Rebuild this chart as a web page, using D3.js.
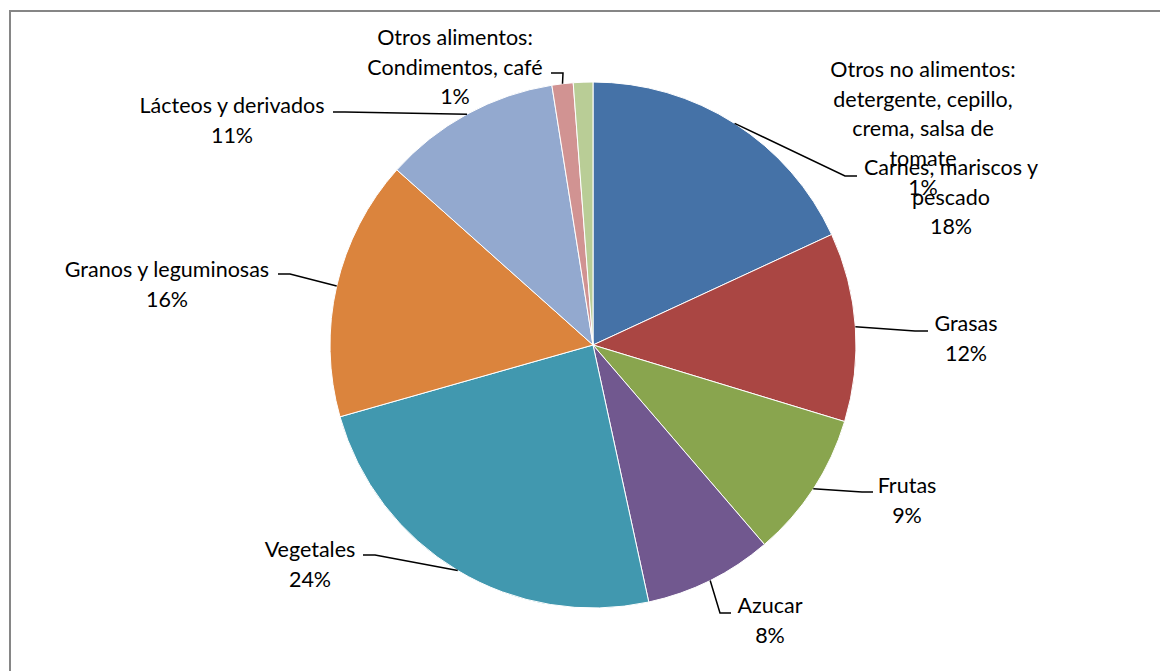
<!DOCTYPE html>
<html>
<head>
<meta charset="utf-8">
<script src="https://cdn.jsdelivr.net/npm/d3@7/dist/d3.min.js"></script>
<style>
  html, body { margin: 0; padding: 0; background: #fff; }
  svg { display: block; }
  text { font-family: "Lato", "Open Sans", sans-serif; font-size: 21.5px; fill: #000; }
</style>
</head>
<body>
<svg id="chart" width="1160" height="671"></svg>
<script>
// ---- data ----
const categories = [
  "Carnes, mariscos y pescado",
  "Grasas",
  "Frutas",
  "Azucar",
  "Vegetales",
  "Granos y leguminosas",
  "Lácteos y derivados",
  "Otros alimentos: Condimentos, café",
  "Otros no alimentos: detergente, cepillo, crema, salsa de tomate"
];
const values = [18.1, 11.6, 9.0, 7.9, 24.0, 16.0, 10.9, 1.3, 1.2];
const labelLines = [
  ["Carnes, mariscos y", "pescado"],
  ["Grasas"],
  ["Frutas"],
  ["Azucar"],
  ["Vegetales"],
  ["Granos y leguminosas"],
  ["Lácteos y derivados"],
  ["Otros alimentos:", "Condimentos, café"],
  ["Otros no alimentos:", "detergente, cepillo,", "crema, salsa de", "tomate"]
];
const colors = ["#4572A7", "#AA4643", "#89A54E", "#71588F", "#4198AF",
                "#DB843D", "#93A9CF", "#D19392", "#B9CD96"];

// ---- layout (positions only) ----
const cx = 593, cy = 345, R = 263;
const lineH = 29.5;
// label center x, first baseline y, leader elbow + end points (null = no leader)
const labelLayout = [
  { x: 951, y: 175, leader: [[845, 176], [857, 176]] },
  { x: 966, y: 331, leader: [[915, 331], [928, 331]] },
  { x: 907, y: 493, leader: [[862, 492], [873, 492]] },
  { x: 770, y: 613, leader: [[720, 613], [731, 613]] },
  { x: 310, y: 557, leader: [[375, 555], [363, 555]] },
  { x: 167, y: 277, leader: [[290, 274], [278, 274]] },
  { x: 232, y: 113, leader: [[345, 112], [333, 112]] },
  { x: 455, y: 45,  leader: [[563, 73], [551, 73]] },
  { x: 923, y: 77,  leader: null }
];

const svg = d3.select("#chart");

// frame
svg.append("path")
  .attr("d", "M10,671 L10,11 L1160,11")
  .attr("fill", "none")
  .attr("stroke", "#868686")
  .attr("stroke-width", 2);

const total = d3.sum(values);
const pie = d3.pie().sort(null).value(d => d)
  .startAngle(0).endAngle(2 * Math.PI);
const arcs = pie(values);
const arc = d3.arc().innerRadius(0).outerRadius(R);
const edgeArc = d3.arc().innerRadius(R).outerRadius(R);

const g = svg.append("g").attr("transform", `translate(${cx},${cy})`);
g.selectAll("path.slice")
  .data(arcs)
  .join("path")
  .attr("class", "slice")
  .attr("d", arc)
  .attr("fill", (d, i) => colors[i])
  .attr("stroke", "#fff")
  .attr("stroke-width", 1);

// leader lines
arcs.forEach((d, i) => {
  const L = labelLayout[i];
  if (!L.leader) return;
  const c = edgeArc.centroid(d);
  const pts = [[c[0] + cx, c[1] + cy]].concat(L.leader);
  svg.append("path")
    .attr("d", d3.line()(pts))
    .attr("fill", "none")
    .attr("stroke", "#000")
    .attr("stroke-width", 1.5);
});

// labels
arcs.forEach((d, i) => {
  const L = labelLayout[i];
  const pct = Math.round(values[i] / total * 100) + "%";
  const lines = labelLines[i].concat([pct]);
  const t = svg.append("text")
    .attr("text-anchor", "middle");
  lines.forEach((s, k) => {
    t.append("tspan")
      .attr("x", L.x)
      .attr("y", L.y + k * lineH)
      .text(s);
  });
});
</script>
</body>
</html>
